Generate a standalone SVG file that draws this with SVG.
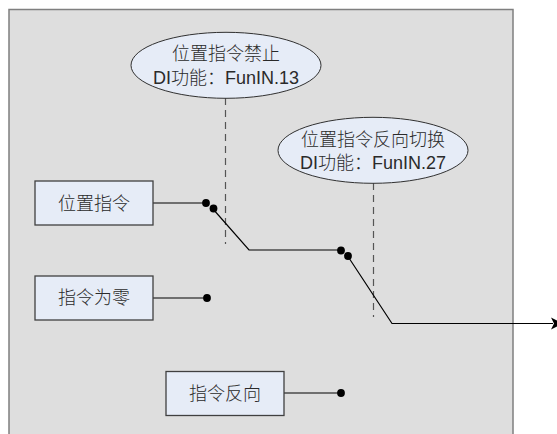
<svg xmlns="http://www.w3.org/2000/svg" width="557" height="434" viewBox="0 0 557 434">
<defs>
<style>
.panel{fill:#dedede;stroke:#7f7f7f;stroke-width:1.5}
.box{fill:#e6ecf7;stroke:#404040;stroke-width:1.3}
.ell{fill:#e6ecf7;stroke:#303030;stroke-width:1}
.t{font-family:"Liberation Sans","Noto Sans CJK SC",sans-serif;font-size:18px;font-weight:300;fill:#2a2a2a;text-anchor:middle}
.w{fill:none;stroke:#000;stroke-width:1.2}
.d{fill:none;stroke:#555;stroke-width:1.2;stroke-dasharray:7,5}
.dot{fill:#000}
</style>
<marker id="arr" markerWidth="14" markerHeight="14" refX="2" refY="7" orient="auto" markerUnits="userSpaceOnUse">
<path d="M0,1 L12,7 L0,13 L3,7 Z" fill="#000"/>
</marker>
</defs>
<rect class="panel" x="9" y="9.5" width="504" height="440"/>
<g id="connectors">
<line class="d" x1="225.5" y1="98" x2="225.5" y2="244"/>
<line class="d" x1="373.5" y1="183" x2="373.5" y2="317"/>
<polyline class="w" points="153,203 207,203"/>
<polyline class="w" points="213,209 249,250 341,250"/>
<polyline class="w" points="348,256.5 392,323.5 553,323.5" marker-end="url(#arr)"/>
<line class="w" x1="153" y1="298" x2="207" y2="298"/>
<line class="w" x1="284" y1="393" x2="341" y2="393"/>
<circle class="dot" cx="206" cy="203" r="3.9"/>
<circle class="dot" cx="213.5" cy="208.5" r="3.9"/>
<circle class="dot" cx="341" cy="250.5" r="3.9"/>
<circle class="dot" cx="348" cy="256" r="3.9"/>
<circle class="dot" cx="207" cy="298" r="3.9"/>
<circle class="dot" cx="341" cy="393" r="3.9"/>
</g>
<g id="ellipse1">
<ellipse class="ell" cx="226" cy="65.3" rx="95" ry="33"/>
<text class="t" x="226" y="60">位置指令禁止</text>
<text class="t" x="226" y="84">DI功能：FunIN.13</text>
</g>
<g id="ellipse2">
<ellipse class="ell" cx="373" cy="150.3" rx="95" ry="33"/>
<text class="t" x="373" y="146">位置指令反向切换</text>
<text class="t" x="373" y="169">DI功能：FunIN.27</text>
</g>
<g id="box1">
<rect class="box" x="35" y="181" width="118" height="44"/>
<text class="t" x="94" y="209.5">位置指令</text>
</g>
<g id="box2">
<rect class="box" x="35" y="276" width="118" height="44"/>
<text class="t" x="94" y="304">指令为零</text>
</g>
<g id="box3">
<rect class="box" x="166" y="371.5" width="118" height="44"/>
<text class="t" x="225" y="399.5">指令反向</text>
</g>
</svg>
